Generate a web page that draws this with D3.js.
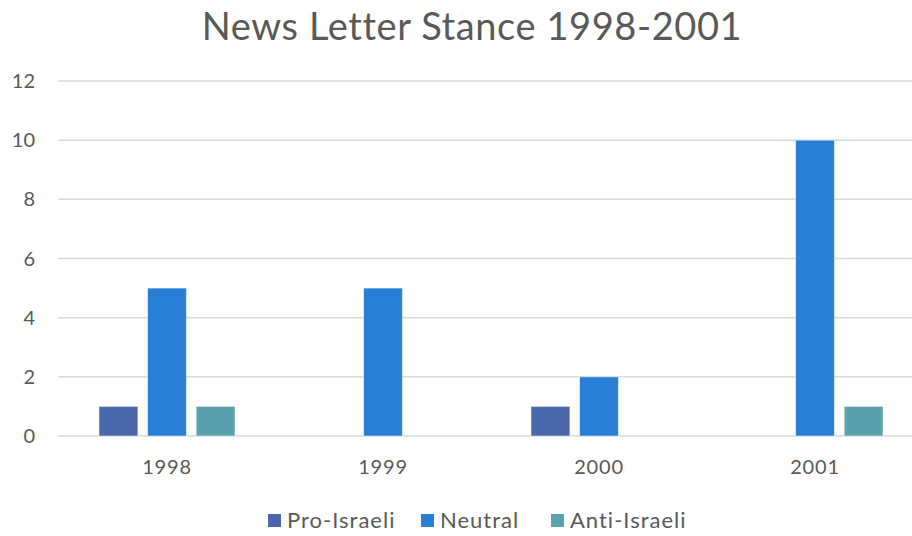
<!DOCTYPE html>
<html>
<head>
<meta charset="utf-8">
<script src="https://cdn.jsdelivr.net/npm/d3@7"></script>
<style>
  body { margin: 0; background: #fff; }
  text { font-family: "Lato", "Open Sans", sans-serif; fill: #595959; }
</style>
</head>
<body>
<svg id="chart" width="912" height="536"></svg>
<script>
// data
let years = ["1998", "1999", "2000", "2001"]
let seriesNames = ["Pro-Israeli", "Neutral", "Anti-Israeli"]
let proIsraeli = [1, 0, 1, 0]
let neutral = [5, 5, 2, 10]
let antiIsraeli = [1, 0, 0, 1]
let yTicks = [0, 2, 4, 6, 8, 10, 12]
let colors = ["#4A66AC", "#297FD5", "#5AA2AE"]

let values = [proIsraeli, neutral, antiIsraeli]

let svg = d3.select("#chart")

let x = d3.scaleBand()
    .domain(years)
    .range([59, 923])

let xInner = d3.scaleBand()
    .domain(seriesNames)
    .range([-68, 68])
    .paddingInner(0.2)

let y = d3.scaleLinear()
    .domain([0, 12])
    .range([436, 81])

// title
svg.append("text")
    .attr("x", 472)
    .attr("y", 40)
    .attr("text-anchor", "middle")
    .attr("font-size", 38)
    .attr("letter-spacing", 0.6)
    .text("News Letter Stance 1998-2001")

// gridlines
svg.append("g")
    .selectAll("line")
    .data(yTicks)
    .join("line")
    .attr("x1", 58)
    .attr("x2", 912)
    .attr("y1", d => y(d))
    .attr("y2", d => y(d))
    .attr("stroke", "#d9d9d9")
    .attr("stroke-width", 1.5)

// y labels
svg.append("g")
    .selectAll("text")
    .data(yTicks)
    .join("text")
    .attr("x", 35)
    .attr("y", d => y(d) + 7)
    .attr("text-anchor", "end")
    .attr("font-size", 20)
    .text(d => d)

// x labels
svg.append("g")
    .selectAll("text")
    .data(years)
    .join("text")
    .attr("x", d => x(d) + x.bandwidth() / 2)
    .attr("y", 474)
    .attr("text-anchor", "middle")
    .attr("font-size", 20)
    .attr("letter-spacing", 0.8)
    .text(d => d)

// bars
let barData = []
years.forEach((yr, i) => {
    seriesNames.forEach((s, j) => {
        if (values[j][i] > 0) barData.push({year: yr, series: s, value: values[j][i], color: colors[j]})
    })
})

svg.append("g")
    .selectAll("rect")
    .data(barData)
    .join("rect")
    .attr("x", d => x(d.year) + x.bandwidth() / 2 + xInner(d.series))
    .attr("y", d => y(d.value))
    .attr("width", xInner.bandwidth())
    .attr("height", d => y(0) - y(d.value))
    .attr("fill", d => d.color)
    .attr("stroke", "#ffffff")
    .attr("stroke-opacity", 0.5)
    .attr("stroke-width", 1)

// legend
let legendX = [268, 421, 551]
let legend = svg.append("g")
    .selectAll("g")
    .data(seriesNames)
    .join("g")
    .attr("transform", (d, i) => `translate(${legendX[i]}, 514)`)

legend.append("rect")
    .attr("width", 13)
    .attr("height", 13)
    .attr("fill", (d, i) => colors[i])

legend.append("text")
    .attr("x", 19)
    .attr("y", 14)
    .attr("font-size", 22)
    .attr("letter-spacing", 1)
    .text(d => d)
</script>
</body>
</html>
